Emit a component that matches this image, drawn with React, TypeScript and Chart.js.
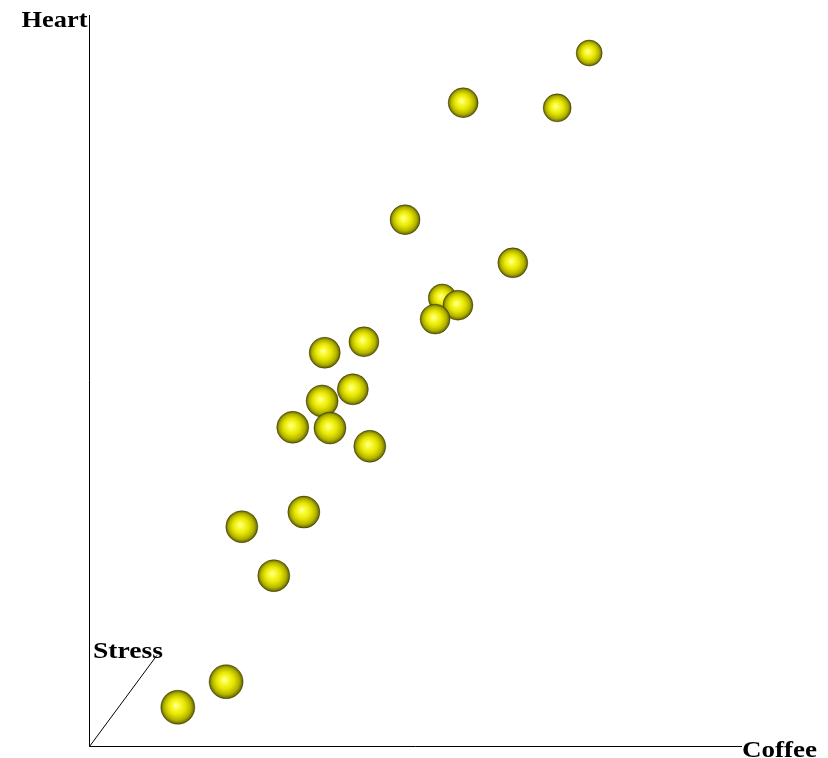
import React, { useEffect, useRef } from "react";
import { Chart, registerables } from "chart.js";

Chart.register(...registerables);

// Coffee (x), Heart (y), Stress (depth -> apparent ball size)
const coffee = [76.6, 57.3, 71.7, 48.4, 64.9, 54.1, 56.5, 53.0, 42.1, 36.1, 40.4, 35.7, 31.2, 36.9, 43.0, 32.9, 23.4, 28.3, 21.0, 13.6];
const heart = [94.8, 88.0, 87.3, 72.0, 66.1, 61.3, 60.3, 58.4, 55.3, 53.8, 48.8, 47.2, 43.6, 43.5, 41.0, 32.0, 30.0, 23.3, 8.8, 5.3];
const stress = [43, 71, 57, 71, 71, 57, 71, 71, 71, 79, 79, 86, 86, 86, 86, 86, 86, 86, 100, 100];

const axisLabels = { x: "Coffee", y: "Heart", z: "Stress" };
const stressAxisEnd = { x: 10.4, y: 12.4 };

const radiusFor = (s: number) => 10 + s * 0.07;

const spherePlugin = {
  id: "spheres3d",
  afterDatasetsDraw(chart: any) {
    const ctx: CanvasRenderingContext2D = chart.ctx;
    const xs = chart.scales.x;
    const ys = chart.scales.y;
    const x0 = Math.round(xs.getPixelForValue(0)) + 0.5;
    const y0 = Math.round(ys.getPixelForValue(0)) + 0.5;
    const xEnd = xs.getPixelForValue(100);
    const yEnd = ys.getPixelForValue(100);
    const sx = xs.getPixelForValue(stressAxisEnd.x);
    const sy = ys.getPixelForValue(stressAxisEnd.y);

    ctx.save();
    ctx.strokeStyle = "#000";
    ctx.lineWidth = 1;
    ctx.beginPath();
    ctx.moveTo(x0, y0);
    ctx.lineTo(x0, yEnd);
    ctx.moveTo(x0, y0);
    ctx.lineTo(xEnd, y0);
    ctx.moveTo(x0, y0);
    ctx.lineTo(sx, sy);
    ctx.stroke();

    ctx.fillStyle = "#000";
    ctx.font = "bold 24px 'Liberation Serif', 'Times New Roman', serif";
    ctx.textBaseline = "alphabetic";
    const drawLabel = (text: string, left: number, baseline: number, width: number) => {
      const w = ctx.measureText(text).width;
      ctx.save();
      ctx.translate(left, baseline);
      ctx.scale(width / w, 1);
      ctx.textAlign = "left";
      ctx.fillText(text, 0, 0);
      ctx.restore();
    };
    drawLabel(axisLabels.y, x0 - 68, yEnd + 12, 66);
    drawLabel(axisLabels.x, xEnd, y0 + 10, 75);
    drawLabel(axisLabels.z, sx - 64, sy + 3, 70);
    ctx.restore();

    const meta = chart.getDatasetMeta(0);
    meta.data.forEach((el: any, i: number) => {
      const r = radiusFor(stress[i]);
      const cx = el.x;
      const cy = el.y;
      const g = ctx.createRadialGradient(cx - r * 0.12, cy - r * 0.12, 0, cx, cy, r);
      g.addColorStop(0, "#ffffc0");
      g.addColorStop(0.14, "#ffff50");
      g.addColorStop(0.5, "#e6e600");
      g.addColorStop(0.8, "#b0b000");
      g.addColorStop(0.94, "#767600");
      g.addColorStop(1, "#4a4a00");
      ctx.save();
      ctx.beginPath();
      ctx.arc(cx, cy, r, 0, Math.PI * 2);
      ctx.fillStyle = g;
      ctx.fill();
      ctx.lineWidth = 0.6;
      ctx.strokeStyle = "rgba(50,50,0,0.7)";
      ctx.stroke();
      ctx.restore();
    });
  },
};

export default function App() {
  const ref = useRef<HTMLCanvasElement>(null);
  useEffect(() => {
    if (!ref.current) return;
    const chart = new Chart(ref.current, {
      type: "scatter",
      data: {
        datasets: [
          {
            label: "Heart vs Coffee",
            data: coffee.map((c, i) => ({ x: c, y: heart[i] })),
            pointRadius: stress.map((s) => radiusFor(s)),
            backgroundColor: "rgba(0,0,0,0)",
            borderColor: "rgba(0,0,0,0)",
            borderWidth: 0,
          },
        ],
      },
      options: {
        animation: false,
        responsive: false,
        devicePixelRatio: 1,
        layout: { autoPadding: false, padding: { left: 89, right: 86, top: 15, bottom: 12 } },
        plugins: { legend: { display: false }, tooltip: { enabled: false }, title: { display: false } },
        scales: {
          x: { type: "linear", min: 0, max: 100, display: false },
          y: { type: "linear", min: 0, max: 100, display: false },
        },
      },
      plugins: [spherePlugin],
    });
    return () => chart.destroy();
  }, []);
  return (
    <div style={{ position: "absolute", left: 0, top: 0, width: 828, height: 758, background: "#fff" }}>
      <canvas ref={ref} width={828} height={758} style={{ display: "block" }} />
    </div>
  );
}
